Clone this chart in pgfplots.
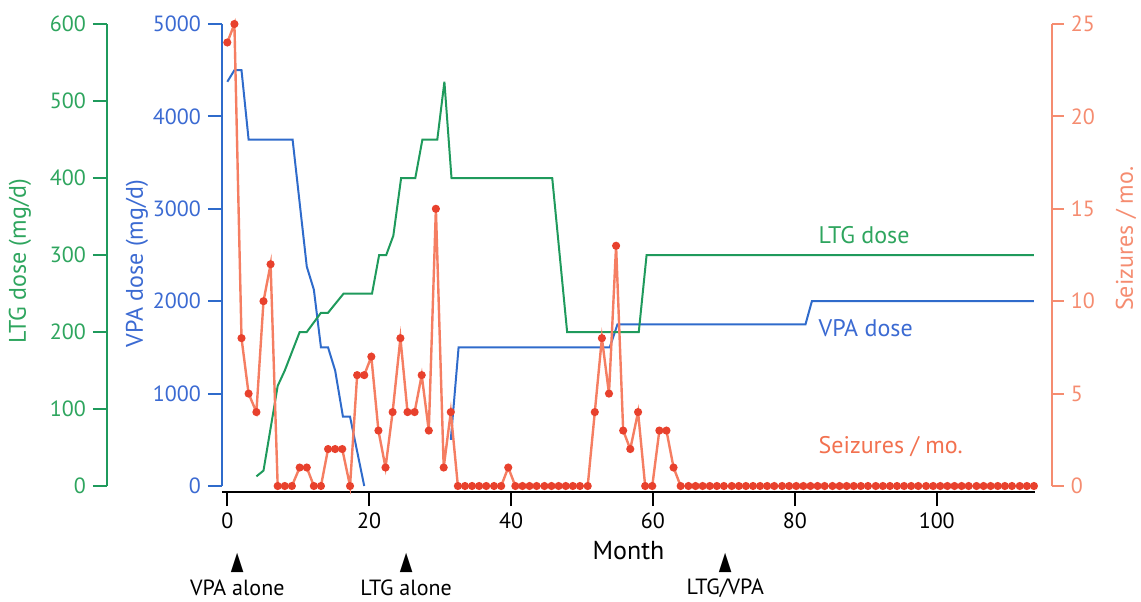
\documentclass[border=0pt]{standalone}
\usepackage{fontspec}
\setmainfont{PT Sans}
\newfontfamily\symfont{DejaVu Sans}
\usepackage{graphicx}
\usepackage{pgfplots}
\pgfplotsset{compat=1.18}

\definecolor{ltg}{HTML}{1F9A5C}
\definecolor{ltgtext}{HTML}{2EA55E}
\definecolor{vpa}{HTML}{2F6BCB}
\definecolor{vpatext}{HTML}{3B6AD2}
\definecolor{szline}{HTML}{F57E62}
\definecolor{sztext}{HTML}{F2714F}
\definecolor{szdot}{HTML}{E8412D}
\definecolor{szaxis}{HTML}{F58C70}

% all three axes share one box; 1 px of the reference = 0.5pt
\pgfplotsset{
  base/.style={
    scale only axis, width=406.5pt, height=231pt,
    xmin=-0.75, xmax=113.85, clip=false,
    tick align=outside,
    /pgf/number format/assume math mode=true,
    /pgf/number format/1000 sep={},
    scaled ticks=false,
    tick label style={font=\fontsize{11}{13}\selectfont},
    label style={font=\fontsize{12}{14}\selectfont},
  },
}
\tikzset{note/.style={inner sep=0, font=\fontsize{11}{13}\selectfont}}

\newcommand{\arrowmark}{\scalebox{0.75}[1.15]{\symfont ▲}}

\begin{document}
\begin{tikzpicture}
\useasboundingbox (-111pt,-57.5pt) rectangle (459.5pt,243pt);

% VPA dose, with the month axis
\begin{axis}[base, ymin=0, ymax=5000,
  axis x line*=bottom, axis y line*=left,
  axis x line shift=3pt,
  x axis line style={black, line width=1pt, -},
  y axis line style={vpa, line width=1pt, -},
  xtick={0,20,...,100}, ytick={0,1000,...,5000},
  xtick style={black, line width=1pt}, ytick style={vpa, line width=1pt},
  major tick length=7pt,
  yticklabel style={text=vpatext},
  xlabel={Month}, ylabel={VPA dose (mg/d)},
  ylabel style={text=vpatext, at={(axis description cs:-0.1046,0.482)}, anchor=center},
  xlabel style={at={(axis description cs:0.5,-0.1407)}, anchor=center, font=\fontsize{13}{15}\selectfont},
]
\addplot[vpa, line width=1pt] coordinates {
  (0,4375) (1.0,4500) (2.0,4500) (3.0,3750) (9.2,3750) (11.2,2375) (12.2,2125)
  (13.2,1500) (14.2,1500) (15.2,1250) (16.3,750) (17.3,750) (19.3,0)};
\addplot[vpa, line width=1pt] coordinates {
  (31.5,500) (32.6,1500) (53.9,1500) (55.0,1750) (81.5,1750) (82.4,2000) (113.7,2000)};
\end{axis}

% LTG dose
\begin{axis}[base, ymin=0, ymax=600,
  axis x line=none, axis y line*=left, axis y line shift=57.5pt,
  y axis line style={ltg, line width=1pt, -},
  ytick={0,100,...,600}, ytick style={ltg, line width=1pt},
  major tick length=7pt,
  yticklabel style={text=ltgtext},
  ylabel={LTG dose (mg/d)},
  ylabel style={text=ltgtext, at={(axis description cs:-0.2485,0.487)}, anchor=center},
]
\addplot[ltg, line width=1pt] coordinates {
  (4.1,12.5) (5.1,20) (7.1,130) (8.1,150) (10.2,200) (11.2,200) (13.2,225) (14.2,225)
  (16.4,250) (20.4,250) (21.4,300) (22.4,300) (23.4,325) (24.5,400) (26.5,400)
  (27.5,450) (29.6,450) (30.6,525) (31.6,400) (45.8,400) (47.9,200) (58.0,200)
  (59.1,300) (113.7,300)};
\end{axis}

% seizures per month
\begin{axis}[base, ymin=0, ymax=25,
  axis x line=none, axis y line*=right, axis y line shift=8.35pt,
  y axis line style={szaxis, line width=1pt, -},
  ytick={0,5,...,25}, ytick style={szaxis, line width=1pt},
  major tick length=6pt,
  yticklabel style={text=szaxis},
  ylabel={Seizures / mo.},
  ylabel style={text=szaxis, inner sep=0, at={(axis description cs:1.112,0.535)}, anchor=center},
]
\addplot[szline, line width=1.2pt, mark=*, mark size=1.4pt,
  mark options={draw=szdot, fill=szdot}] table {
x y
0.0 24
1.0 25
2.0 8
3.0 5
4.1 4
5.1 10
6.1 12
7.1 0
8.1 0
9.1 0
10.2 1
11.2 1
12.2 0
13.2 0
14.2 2
15.2 2
16.2 2
17.3 0
18.3 6
19.3 6
20.3 7
21.3 3
22.3 1
23.3 4
24.4 8
25.4 4
26.4 4
27.4 6
28.4 3
29.4 15
30.5 1
31.5 4
32.5 0
33.5 0
34.5 0
35.5 0
36.5 0
37.6 0
38.6 0
39.6 1
40.6 0
41.6 0
42.6 0
43.6 0
44.7 0
45.7 0
46.7 0
47.7 0
48.7 0
49.7 0
50.8 0
51.8 4
52.8 8
53.8 5
54.8 13
55.8 3
56.8 2
57.9 4
58.9 0
59.9 0
60.9 3
61.9 3
62.9 1
63.9 0
65.0 0
66.0 0
67.0 0
68.0 0
69.0 0
70.0 0
71.1 0
72.1 0
73.1 0
74.1 0
75.1 0
76.1 0
77.1 0
78.2 0
79.2 0
80.2 0
81.2 0
82.2 0
83.2 0
84.2 0
85.3 0
86.3 0
87.3 0
88.3 0
89.3 0
90.3 0
91.4 0
92.4 0
93.4 0
94.4 0
95.4 0
96.4 0
97.4 0
98.5 0
99.5 0
100.5 0
101.5 0
102.5 0
103.5 0
104.5 0
105.6 0
106.6 0
107.6 0
108.6 0
109.6 0
110.6 0
111.7 0
112.7 0
113.7 0
};
\node[anchor=west, inner sep=0, text=ltgtext, font=\fontsize{12}{14}\selectfont] at (axis cs:83.3,13.58) {LTG dose};
\node[anchor=west, inner sep=0, text=vpatext, font=\fontsize{12}{14}\selectfont] at (axis cs:83.3,8.55) {VPA dose};
\node[anchor=west, inner sep=0, text=sztext, font=\fontsize{12}{14}\selectfont] at (axis cs:83.3,2.11) {Seizures / mo.};
\node[note] at (axis cs:1.4,-4.17) {\arrowmark};
\node[note] at (axis cs:1.4,-5.52) {VPA alone};
\node[note] at (axis cs:25.2,-4.17) {\arrowmark};
\node[note] at (axis cs:25.2,-5.52) {LTG alone};
\node[note] at (axis cs:70.2,-4.17) {\arrowmark};
\node[note] at (axis cs:70.2,-5.52) {LTG/VPA};
\end{axis}
\end{tikzpicture}
\end{document}
